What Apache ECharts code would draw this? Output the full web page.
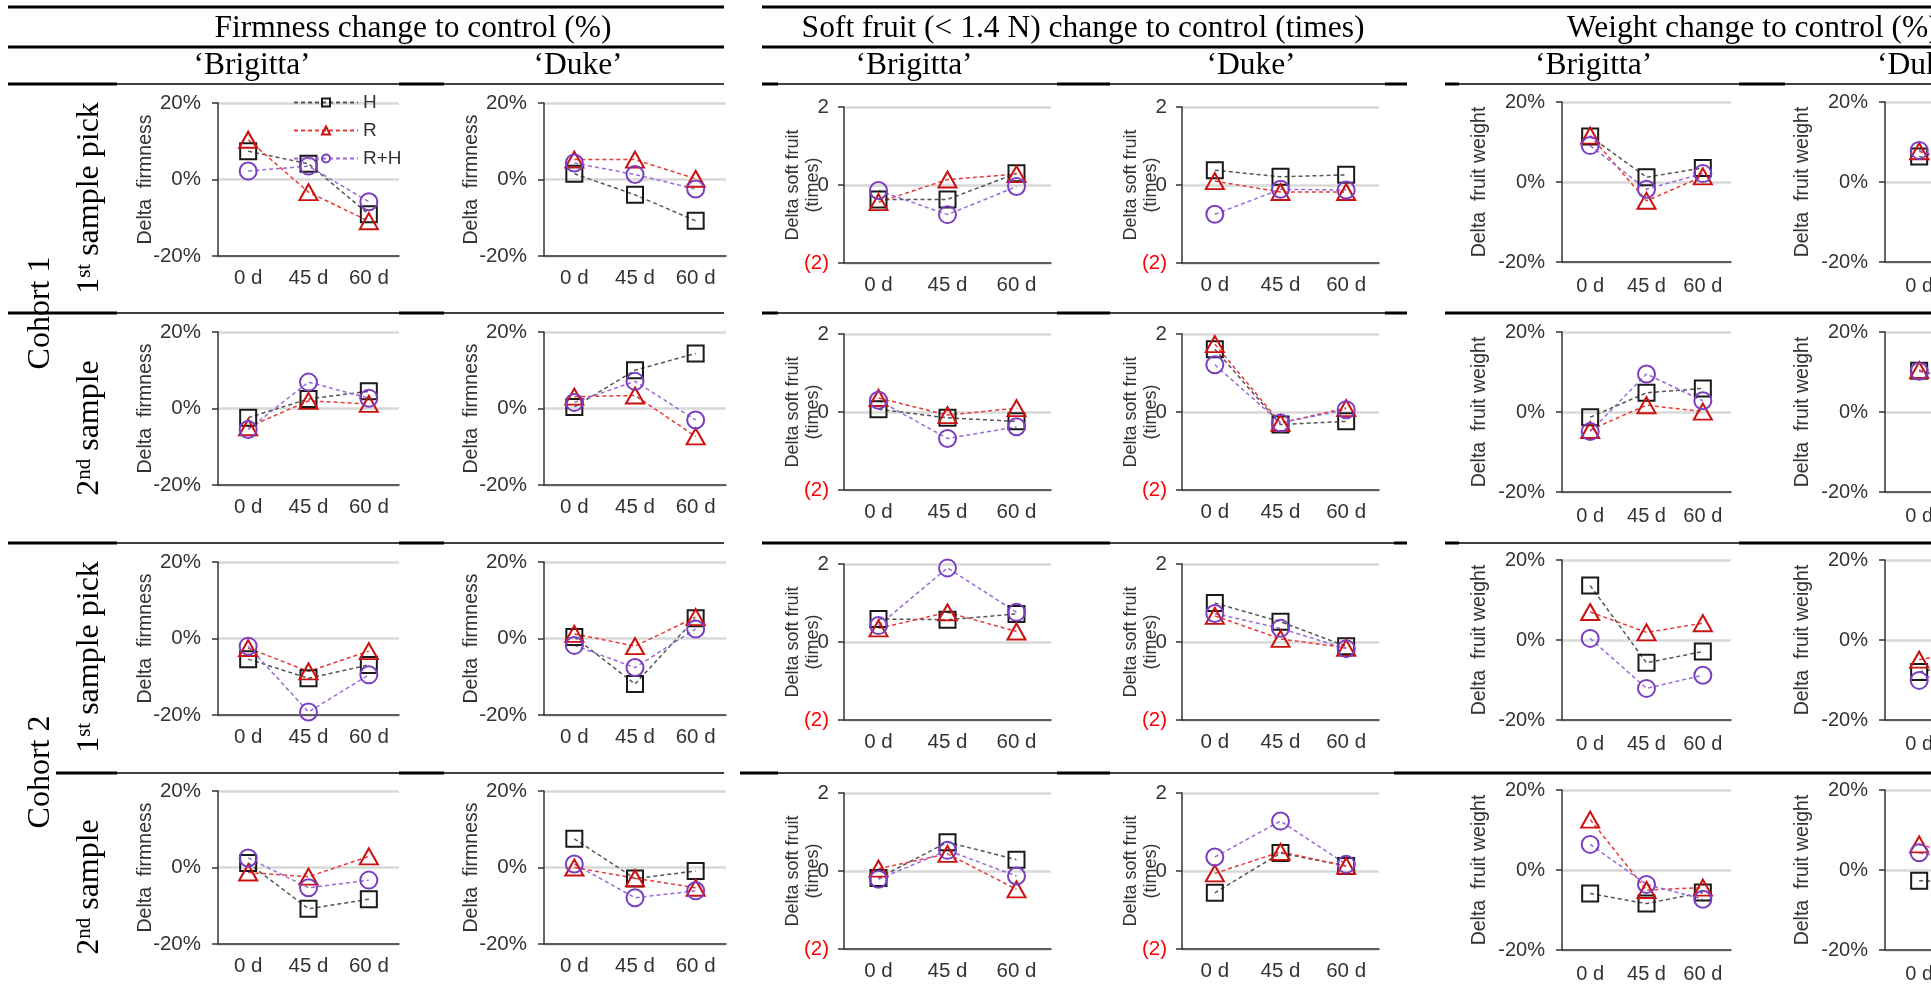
<!DOCTYPE html>
<html><head><meta charset="utf-8">
<script src="https://cdn.jsdelivr.net/npm/echarts@6/dist/echarts.min.js"></script>
<style>html,body{margin:0;padding:0;background:#fff}#c{width:1931px;height:1000px}</style>
</head><body><div id="c"></div>
<script>
// ---------------- data ----------------
const categories = ['0 d', '45 d', '60 d'];
const seriesNames = ['H', 'R', 'R+H'];
const pctTicks = [-20, 0, 20];
const timesTicks = [-2, 0, 2];
const measureTitles = ['Firmness change to control (%)', 'Soft fruit (< 1.4 N) change to control (times)', 'Weight change to control (%)'];
const cultivars = ['\u2018Brigitta\u2019', '\u2018Duke\u2019'];
const axisNames = ['Delta  firmness', 'Delta soft fruit\n(times)', 'Delta  fruit weight'];
const cohortLabels = ['Cohort 1', 'Cohort 2'];

// rows: [cohort1 1st pick, cohort1 2nd sample, cohort2 1st pick, cohort2 2nd sample]
const firmBrigittaH  = [[7.4, 4.1, -9.1], [-2.4, 2.5, 4.5], [-5.4, -10.4, -6.9], [1.2, -10.8, -8.3]];
const firmBrigittaR  = [[10.4, -3.3, -10.9], [-4.9, 2.0, 1.2], [-2.5, -8.6, -3.3], [-1.3, -2.4, 2.9]];
const firmBrigittaRH = [[2.2, 3.5, -5.8], [-5.5, 6.9, 2.7], [-2.0, -19.2, -9.5], [2.5, -5.3, -3.3]];
const firmDukeH  = [[1.5, -4.0, -10.8], [0.4, 10.0, 14.4], [0.4, -11.9, 5.3], [7.5, -2.9, -0.9]];
const firmDukeR  = [[5.2, 5.2, 0.2], [3.1, 3.4, -7.3], [1.2, -2.0, 5.6], [0.0, -2.8, -5.3]];
const firmDukeRH = [[4.3, 1.3, -2.5], [1.6, 7.1, -3.0], [-1.8, -7.6, 2.5], [0.9, -7.9, -6.1]];
const softBrigittaH  = [[-0.37, -0.37, 0.30], [0.07, -0.15, -0.24], [0.59, 0.57, 0.72], [-0.18, 0.74, 0.29]];
const softBrigittaR  = [[-0.44, 0.14, 0.28], [0.36, -0.08, 0.10], [0.35, 0.76, 0.27], [0.06, 0.44, -0.47]];
const softBrigittaRH = [[-0.14, -0.76, -0.04], [0.30, -0.68, -0.38], [0.42, 1.90, 0.76], [-0.21, 0.53, -0.13]];
const softDukeH  = [[0.38, 0.21, 0.26], [1.61, -0.32, -0.24], [1.00, 0.52, -0.11], [-0.56, 0.46, 0.13]];
const softDukeR  = [[0.10, -0.18, -0.18], [1.74, -0.28, 0.10], [0.67, 0.08, -0.15], [-0.06, 0.49, 0.13]];
const softDukeRH = [[-0.75, -0.11, -0.13], [1.21, -0.28, 0.06], [0.73, 0.35, -0.17], [0.36, 1.28, 0.17]];
const weightBrigittaH  = [[11.4, 1.2, 3.5], [-1.3, 4.8, 5.9], [13.6, -5.7, -2.9], [-5.9, -8.4, -5.6]];
const weightBrigittaR  = [[11.6, -4.7, 1.4], [-4.5, 1.7, 0.1], [7.0, 1.9, 4.2], [12.6, -5.0, -4.4]];
const weightBrigittaRH = [[9.1, -1.8, 2.1], [-4.9, 9.5, 2.8], [0.4, -12.1, -8.8], [6.4, -3.6, -7.3]];
const weightDukeH  = [[6.4, 1.5, 3.0], [10.3, 6.0, 5.0], [-8.0, -5.0, -4.0], [-2.7, -3.0, -2.0]];
const weightDukeR  = [[7.7, 1.0, 2.0], [10.5, 5.0, 4.0], [-4.9, -2.0, -1.0], [6.4, 2.0, 1.0]];
const weightDukeRH = [[7.9, 2.0, 2.5], [10.2, 6.0, 4.5], [-10.1, -4.0, -3.0], [4.3, 1.0, 0.0]];

const panelData = [
  [[firmBrigittaH, firmBrigittaR, firmBrigittaRH], [firmDukeH, firmDukeR, firmDukeRH]],
  [[softBrigittaH, softBrigittaR, softBrigittaRH], [softDukeH, softDukeR, softDukeRH]],
  [[weightBrigittaH, weightBrigittaR, weightBrigittaRH], [weightDukeH, weightDukeR, weightDukeRH]]
];

// ---------------- layout ----------------
const colX = [218, 544, 844, 1182, 1562, 1885];
const colW = [181, 182, 207, 197, 169, 205];
const groupTops = [[103, 332, 562, 791], [107, 334, 564, 793], [102, 332, 560, 790]];
const groupH = [153, 156, 160];
const nameGaps = [62, 21, 72];
const xLabelMargin = [12, 12, 14];
const labelSize = [20.5, 20.5, 20];
const SANS = "'Liberation Sans', Arial, sans-serif";
const SERIF = "'Liberation Serif', 'Times New Roman', serif";
const AX = '#333';

const markerStyles = [
  {symbol: 'rect', size: 16, border: '#1a1a1a', line: '#555555'},
  {symbol: 'triangle', size: [18, 16], border: '#cc1111', line: '#e83a3a'},
  {symbol: 'circle', size: 17, border: '#7a3fc0', line: '#9a6ad6'}
];

const grids = [], xAxes = [], yAxes = [], series = [];
let idx = 0;
for (let r = 0; r < 4; r++) {
  for (let c = 0; c < 6; c++) {
    const g = Math.floor(c / 2), cv = c % 2;
    const ticks = g === 1 ? timesTicks : pctTicks;
    grids.push({left: colX[c], top: groupTops[g][r], width: colW[c], height: groupH[g],
      containLabel: false, outerBoundsMode: 'none'});
    xAxes.push({gridIndex: idx, type: 'category', data: categories, boundaryGap: true,
      axisLine: {onZero: false, lineStyle: {color: AX, width: 1.5}},
      axisTick: {alignWithLabel: true, length: 6, lineStyle: {color: AX, width: 1.5}},
      axisLabel: {interval: 0, fontSize: labelSize[g], color: AX, fontFamily: SANS, margin: xLabelMargin[g]},
      splitLine: {show: false}});
    yAxes.push({gridIndex: idx, type: 'value', min: ticks[0], max: ticks[2], interval: ticks[2] - ticks[1],
      axisLine: {show: true, lineStyle: {color: AX, width: 1.5}},
      axisTick: {show: true, length: 6, lineStyle: {color: AX, width: 1.5}},
      splitLine: {show: true, lineStyle: {color: '#d9d9d9', width: 2.5}},
      axisLabel: {fontSize: labelSize[g], color: AX, fontFamily: SANS, margin: g === 1 ? 15 : 17,
        formatter: g === 1 ? (v => v < 0 ? '{neg|(' + Math.abs(v) + ')}' : String(v)) : (v => v + '%'),
        rich: {neg: {color: '#ff0000', fontSize: labelSize[g], fontFamily: SANS}}},
      name: axisNames[g], nameLocation: 'middle', nameGap: nameGaps[g], nameMoveOverlap: false,
      nameTextStyle: {fontSize: g === 1 ? 18 : 19.5, color: AX, fontFamily: SANS, lineHeight: 20}});
    for (let s = 0; s < 3; s++) {
      const m = markerStyles[s];
      series.push({type: 'line', name: seriesNames[s], xAxisIndex: idx, yAxisIndex: idx,
        data: panelData[g][cv][s][r], symbol: m.symbol, symbolSize: m.size, showAllSymbol: true,
        itemStyle: {color: 'rgba(0,0,0,0)', borderColor: m.border, borderWidth: 2},
        lineStyle: {color: m.line, width: 1.5, type: [4, 3]},
        emphasis: {disabled: true}, silent: true, animation: false});
    }
    idx++;
  }
}

// ---------------- decorations (headers, rules) ----------------
const graphics = [];
function hline(y, x1, x2, w) {
  graphics.push({type: 'line', silent: true, shape: {x1: x1, y1: y, x2: x2, y2: y}, style: {stroke: '#000', lineWidth: w}});
}
function text(t, x, y, opts, rot) {
  const el = {type: 'text', silent: true, x: x, y: y, z: 10,
    style: Object.assign({text: t, fontSize: 31.5, fontFamily: SERIF, fill: '#000', align: 'center', verticalAlign: 'middle'}, opts || {})};
  if (rot) el.rotation = rot;
  graphics.push(el);
}
const T = 3, t = 1.3;
[7, 47].forEach(y => { hline(y, 8, 724, T); hline(y, 762, 1931, T); });
// under cultivar headers
hline(84, 8, 724, t); hline(84, 8, 117, T); hline(84, 399, 444, T);
hline(84, 762, 1407, t); hline(84, 762, 778, T); hline(84, 1057, 1110, T); hline(84, 1385, 1407, T);
hline(84, 1445, 1931, t); hline(84, 1445, 1459, T); hline(84, 1739, 1785, T);
// row separators
[313, 543, 773].forEach(y => {
  hline(y, y === 773 ? 56 : 8, 117, T); hline(y, 117, 399, t); hline(y, 399, 444, T); hline(y, 444, 724, t);
});
hline(313, 762, 778, T); hline(313, 778, 1057, t); hline(313, 1057, 1110, T); hline(313, 1110, 1385, t); hline(313, 1385, 1407, T);
hline(313, 1445, 1931, T);
hline(543, 762, 1110, T); hline(543, 1110, 1394, t); hline(543, 1394, 1407, T);
hline(543, 1445, 1459, T); hline(543, 1459, 1739, t); hline(543, 1739, 1931, T);
hline(773, 740, 778, T); hline(773, 778, 1057, t); hline(773, 1057, 1110, T); hline(773, 1110, 1394, t); hline(773, 1394, 1931, T);

text(measureTitles[0], 413, 29);
text(measureTitles[1], 1083, 29);
text(measureTitles[2], 1567, 29, {align: 'left'});
text(cultivars[0], 252, 66); text(cultivars[1], 578, 66);
text(cultivars[0], 914, 66); text(cultivars[1], 1251, 66);
text(cultivars[0], 1535, 66, {align: 'left'}); text(cultivars[1], 1877, 66, {align: 'left'});

const rowRich = {n: {fontSize: 32, fontFamily: SERIF, fill: '#000'}, s: {fontSize: 21, fontFamily: SERIF, fill: '#000', verticalAlign: 'top'}};
const rowTexts = ['{n|1}{s|st}{n| sample pick}', '{n|2}{s|nd}{n| sample}', '{n|1}{s|st}{n| sample pick}', '{n|2}{s|nd}{n| sample}'];
const rowCenters = [198, 428, 657, 887];
rowTexts.forEach((rt, i) => {
  graphics.push({type: 'text', silent: true, x: 90, y: rowCenters[i], rotation: Math.PI / 2, z: 10,
    style: {text: rt, rich: rowRich, align: 'center', verticalAlign: 'middle'}});
});
text(cohortLabels[0], 41, 313, {fontSize: 32}, Math.PI / 2);
text(cohortLabels[1], 41, 772, {fontSize: 32}, Math.PI / 2);

const chart = echarts.init(document.getElementById('c'), null, {renderer: 'canvas', width: 1931, height: 1000});
chart.setOption({
  animation: false,
  backgroundColor: '#ffffff',
  grid: grids, xAxis: xAxes, yAxis: yAxes, series: series,
  legend: {data: seriesNames, orient: 'vertical', left: 288, top: 88, itemWidth: 64, itemHeight: 10, itemGap: 9,
    selectedMode: false, textStyle: {fontSize: 19, color: AX, fontFamily: SANS, lineHeight: 18}},
  graphic: {elements: graphics}
});
</script></body></html>
